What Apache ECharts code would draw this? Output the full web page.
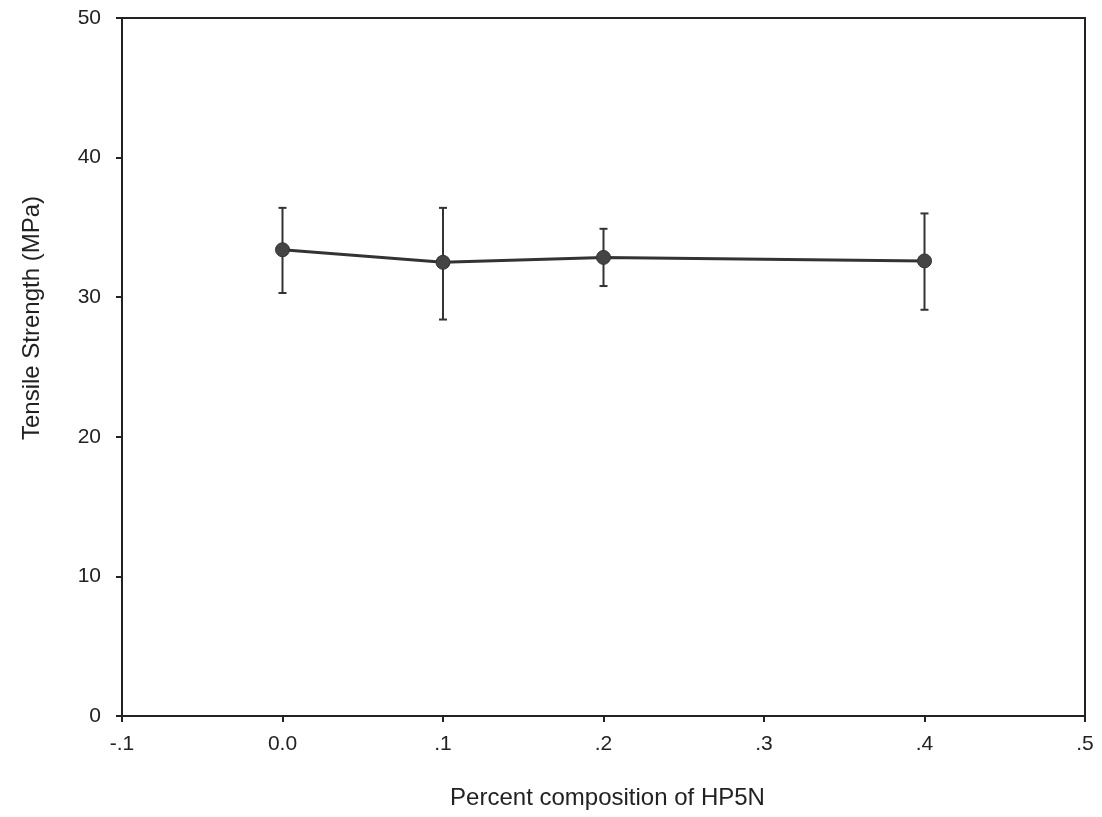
<!DOCTYPE html>
<html>
<head>
<meta charset="utf-8">
<script src="https://cdn.jsdelivr.net/npm/echarts@6/dist/echarts.min.js"></script>
<style>html,body{margin:0;padding:0;background:#fff}#c{width:1102px;height:817px}</style>
</head>
<body>
<div id="c"></div>
<script>
const xValues = [0.0, 0.1, 0.2, 0.4];
const strength = [33.4, 32.5, 32.85, 32.6];
const errLow = [30.3, 28.4, 30.8, 29.1];
const errHigh = [36.4, 36.4, 34.9, 36.0];
const xTickLabels = {"-0.1": "-.1", "0": "0.0", "0.1": ".1", "0.2": ".2", "0.3": ".3", "0.4": ".4", "0.5": ".5"};
const yTicks = [0, 10, 20, 30, 40, 50];

const chart = echarts.init(document.getElementById('c'));
const font = '"Liberation Sans", Arial, sans-serif';
const lineData = xValues.map((x, i) => [x, strength[i]]);
const errData = xValues.map((x, i) => [x, errLow[i], errHigh[i]]);

chart.setOption({
  animation: false,
  backgroundColor: '#fff',
  grid: {left: 122, right: 17, top: 18, bottom: 101, show: true, borderColor: '#222', borderWidth: 2, backgroundColor: 'transparent'},
  xAxis: {
    type: 'value', min: -0.1, max: 0.5, interval: 0.1,
    name: 'Percent composition of HP5N', nameLocation: 'middle', nameGap: 70,
    nameTextStyle: {fontFamily: font, fontSize: 24, color: '#222', padding: [0, 0, 0, 8]},
    axisLine: {show: true, onZero: false, lineStyle: {color: '#222', width: 2}},
    axisTick: {show: true, inside: false, length: 6, lineStyle: {color: '#222', width: 2}},
    axisLabel: {fontFamily: font, fontSize: 21, color: '#222', margin: 18,
      formatter: v => xTickLabels[String(Math.round(v * 10) / 10)] ?? String(v)},
    splitLine: {show: false}
  },
  yAxis: {
    type: 'value', min: 0, max: 50, interval: 10,
    name: 'Tensile Strength (MPa)', nameLocation: 'middle', nameGap: 78,
    nameTextStyle: {fontFamily: font, fontSize: 24, color: '#222', padding: [0, 0, 0, 98]},
    axisLine: {show: true, onZero: false, lineStyle: {color: '#222', width: 2}},
    axisTick: {show: true, inside: false, length: 6, lineStyle: {color: '#222', width: 2}},
    axisLabel: {fontFamily: font, fontSize: 21, color: '#222', margin: 21,
      formatter: v => yTicks.includes(v) ? String(v) : ''},
    splitLine: {show: false}
  },
  series: [
    {
      type: 'custom',
      data: errData,
      z: 3,
      renderItem: function (params, api) {
        const x = api.value(0);
        const lo = api.coord([x, api.value(1)]);
        const hi = api.coord([x, api.value(2)]);
        const cw = 4;
        const style = {stroke: '#333', lineWidth: 2, fill: null};
        return {
          type: 'group',
          children: [
            {type: 'line', shape: {x1: lo[0], y1: lo[1], x2: hi[0], y2: hi[1]}, style: style},
            {type: 'line', shape: {x1: hi[0] - cw, y1: hi[1], x2: hi[0] + cw, y2: hi[1]}, style: style},
            {type: 'line', shape: {x1: lo[0] - cw, y1: lo[1], x2: lo[0] + cw, y2: lo[1]}, style: style}
          ]
        };
      }
    },
    {
      type: 'line',
      data: lineData,
      z: 4,
      symbol: 'circle', symbolSize: 14,
      lineStyle: {color: '#333', width: 3},
      itemStyle: {color: '#444', borderColor: '#333', borderWidth: 1}
    }
  ]
});
</script>
</body>
</html>
